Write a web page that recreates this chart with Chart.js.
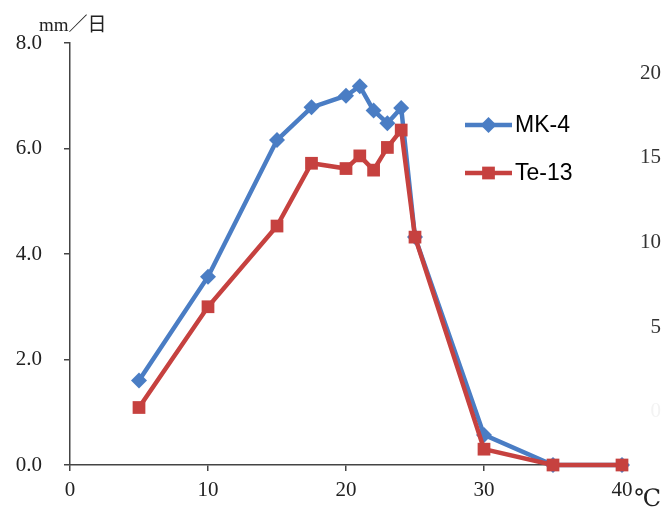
<!DOCTYPE html>
<html>
<head>
<meta charset="utf-8">
<script src="https://cdn.jsdelivr.net/npm/chart.js@4"></script>
<style>
  html, body { margin: 0; padding: 0; background: #fff; }
  #wrap { width: 661px; height: 509px; position: relative; }
</style>
</head>
<body>
<div id="wrap"><canvas id="c" width="661" height="509"></canvas></div>
<script>
// ---- data ----
const temperatures = [5, 10, 15, 17.5, 20, 21, 22, 23, 24, 25, 30, 35, 40];
const mk4Values   = [1.60, 3.57, 6.16, 6.78, 7.00, 7.18, 6.72, 6.48, 6.77, 4.32, 0.57, 0.00, 0.00];
const te13Values  = [1.09, 3.00, 4.53, 5.72, 5.62, 5.86, 5.59, 6.02, 6.35, 4.32, 0.30, 0.00, 0.00];
const seriesNames = ['MK-4', 'Te-13'];
const xTicks = [0, 10, 20, 30, 40];
const yTicks = [0, 2, 4, 6, 8];
const rightTicks = [0, 5, 10, 15, 20];
const yUnit = 'mm／日';
const xUnit = '℃';

const BLUE = '#4A7DC4';
const RED = '#C6413F';
const AXIS = '#444';
const TXT = '#222';
const SERIF = "'Liberation Serif', 'DejaVu Serif', 'Noto Sans CJK JP', serif";

const toPts = (xs, ys) => xs.map((x, i) => ({ x: x, y: ys[i] }));

const extraText = {
  id: 'extraText',
  afterDraw(chart) {
    const ctx = chart.ctx;
    ctx.save();
    // unit labels
    ctx.fillStyle = TXT;
    ctx.textBaseline = 'alphabetic';
    ctx.textAlign = 'left';
    ctx.font = "19px " + SERIF;
    ctx.fillText(yUnit, 39, 31);
    ctx.font = "24px " + SERIF;
    ctx.textAlign = 'right';
    ctx.fillText(xUnit, 661, 506);

    // legend
    ctx.textAlign = 'left';
    const items = chart.data.datasets.map(ds => ({
      label: ds.label, color: ds.borderColor, style: ds.pointStyle, r: ds.pointRadius
    }));
    const lx0 = 465, lx1 = 512, ys = [125, 173];
    items.forEach((it, i) => {
      const y = ys[i];
      ctx.strokeStyle = it.color;
      ctx.lineWidth = 4.5;
      ctx.beginPath();
      ctx.moveTo(lx0, y);
      ctx.lineTo(lx1, y);
      ctx.stroke();
      ctx.fillStyle = it.color;
      Chart.helpers.drawPoint(ctx, {
        pointStyle: it.style, radius: it.r, rotation: 0, borderWidth: 0
      }, (lx0 + lx1) / 2, y);
      ctx.fillStyle = '#000';
      ctx.font = "23px 'Liberation Sans', Arial, sans-serif";
      ctx.textBaseline = 'middle';
      ctx.fillText(it.label, 515, y + 1);
    });
    ctx.restore();
  }
};

new Chart(document.getElementById('c'), {
  type: 'line',
  data: {
    datasets: [
      {
        label: seriesNames[0],
        data: toPts(temperatures, mk4Values),
        borderColor: BLUE,
        backgroundColor: BLUE,
        borderWidth: 4.5,
        pointStyle: 'rectRot',
        pointRadius: 8,
        pointBorderWidth: 0,
        tension: 0,
        order: 1,
        yAxisID: 'y'
      },
      {
        label: seriesNames[1],
        data: toPts(temperatures, te13Values),
        borderColor: RED,
        backgroundColor: RED,
        borderWidth: 4.5,
        pointStyle: 'rect',
        pointRadius: 9,
        pointBorderWidth: 0,
        tension: 0,
        order: 0,
        yAxisID: 'y'
      }
    ]
  },
  options: {
    responsive: false,
    animation: false,
    devicePixelRatio: 1,
    clip: false,
    layout: { padding: { top: 43, left: 0, right: 0, bottom: 0 } },
    plugins: {
      legend: { display: false },
      tooltip: { enabled: false }
    },
    scales: {
      x: {
        type: 'linear',
        min: 0, max: 40,
        afterBuildTicks: s => { s.ticks = xTicks.map(v => ({ value: v })); },
        afterFit: s => { s.height = 44; },
        grid: { display: true, drawOnChartArea: false, drawTicks: true, tickLength: 6, color: AXIS, lineWidth: 1.5 },
        border: { display: true, color: AXIS, width: 1.5 },
        ticks: { color: TXT, font: { family: SERIF, size: 21 }, padding: 7, maxRotation: 0 }
      },
      y: {
        position: 'left',
        min: 0, max: 8,
        afterBuildTicks: s => { s.ticks = yTicks.map(v => ({ value: v })); },
        afterFit: s => { s.width = 70; },
        grid: { display: true, drawOnChartArea: false, drawTicks: true, tickLength: 6, color: AXIS, lineWidth: 1.5 },
        border: { display: true, color: AXIS, width: 1.5 },
        ticks: {
          color: TXT, font: { family: SERIF, size: 21 }, padding: 22,
          callback: v => Number(v).toFixed(1)
        }
      },
      y2: {
        position: 'right',
        min: -3.13, max: 21.77,
        afterBuildTicks: s => { s.ticks = rightTicks.map(v => ({ value: v })); },
        afterFit: s => { s.width = 39; },
        grid: { display: false },
        border: { display: false },
        ticks: {
          color: ctx => (ctx.tick && ctx.tick.value === 0) ? '#f3f3f3' : '#333',
          font: { family: SERIF, size: 21 },
          padding: 18,
          crossAlign: 'far'
        }
      }
    }
  },
  plugins: [extraText]
});
</script>
</body>
</html>
